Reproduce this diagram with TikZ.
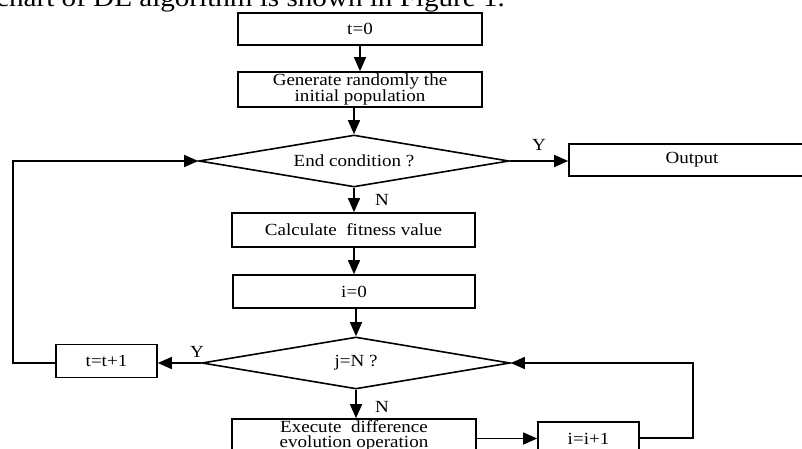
\documentclass[tikz,border=0pt]{standalone}
\usepackage{fontspec}
\setmainfont{Liberation Serif}[FakeStretch=1.12]
\usetikzlibrary{shapes.geometric,arrows.meta}
\begin{document}
\begin{tikzpicture}[x=1pt,y=-1pt,
  box/.style={draw,line width=1.6pt,minimum width=#1,minimum height=33pt,inner sep=0pt,align=center,font=\fontsize{17}{14.5}\selectfont},
  box/.default=244pt,
  dia/.style={draw,diamond,line width=1.6pt,minimum width=310pt,minimum height=52pt,inner sep=0pt,shape aspect=6,font=\fontsize{17}{14.5}\selectfont},
  tip/.style={-{Triangle[length=14pt,width=12pt]}},
  arr/.style={line width=1.4pt,tip},
  ln/.style={line width=1.4pt},
  lab/.style={font=\fontsize{17}{17}\selectfont,inner sep=0pt}]
\useasboundingbox (0,0) rectangle (802,449);
\clip (0,0) rectangle (802,449);

\node[anchor=base west,font=\fontsize{26}{26}\selectfont,inner sep=0pt] (hdr) at (-4,7) {chart of DE algorithm is shown in Figure 1.};

\node[box,minimum height=32pt] (t0) at (360,29) {t=0};
\node[box,minimum height=35pt] (gen) at (360,89.5) {Generate randomly the\\initial population};
\node[dia] (d1) at (354,161) {End condition ?};
\node[box=246pt,minimum height=32pt] (out) at (692,160) {Output};
\node[box=243pt,minimum height=34pt] (calc) at (353.5,230) {Calculate\ \ fitness value};
\node[box=242pt] (i0) at (354,291.5) {i=0};
\node[dia,minimum width=308pt] (d2) at (356,363) {j=N ?};
\node[box=101pt] (tt) at (106.5,361) {t=t+1};
\node[box=244pt,minimum height=34pt] (exe) at (354,436) {Execute\ \ difference\\evolution operation};
\node[box=101pt] (inc) at (588.5,438.5) {i=i+1};

\coordinate (lc) at (13,363);
\coordinate (rc) at (693,438);

\draw[arr] (t0.south -| gen.north) -- (gen.north);
\draw[arr] (gen.south -| d1.north) -- (d1.north);
\draw[arr] (d1.east) -- (out.west |- d1.east);
\draw[arr] (d1.south) -- (d1.south |- calc.north);
\draw[arr] (calc.south -| i0.north) -- (i0.north);
\draw[arr] (i0.south -| d2.north) -- (d2.north);
\draw[arr] (d2.west) -- (tt.east |- d2.west);
\draw[arr] (d2.south) -- (d2.south |- exe.north);
\draw[arr] (exe.east |- inc.west) -- (inc.west);
\draw[arr] (tt.west |- lc) -- (lc) |- (d1.west);
\draw[arr] (inc.east |- rc) -- (rc) |- (d2.east);

\node[lab] (y1) at (539,145) {Y};
\node[lab] (n1) at (382,200) {N};
\node[lab] (y2) at (197,352) {Y};
\node[lab] (n2) at (382,407) {N};
\end{tikzpicture}
\end{document}
